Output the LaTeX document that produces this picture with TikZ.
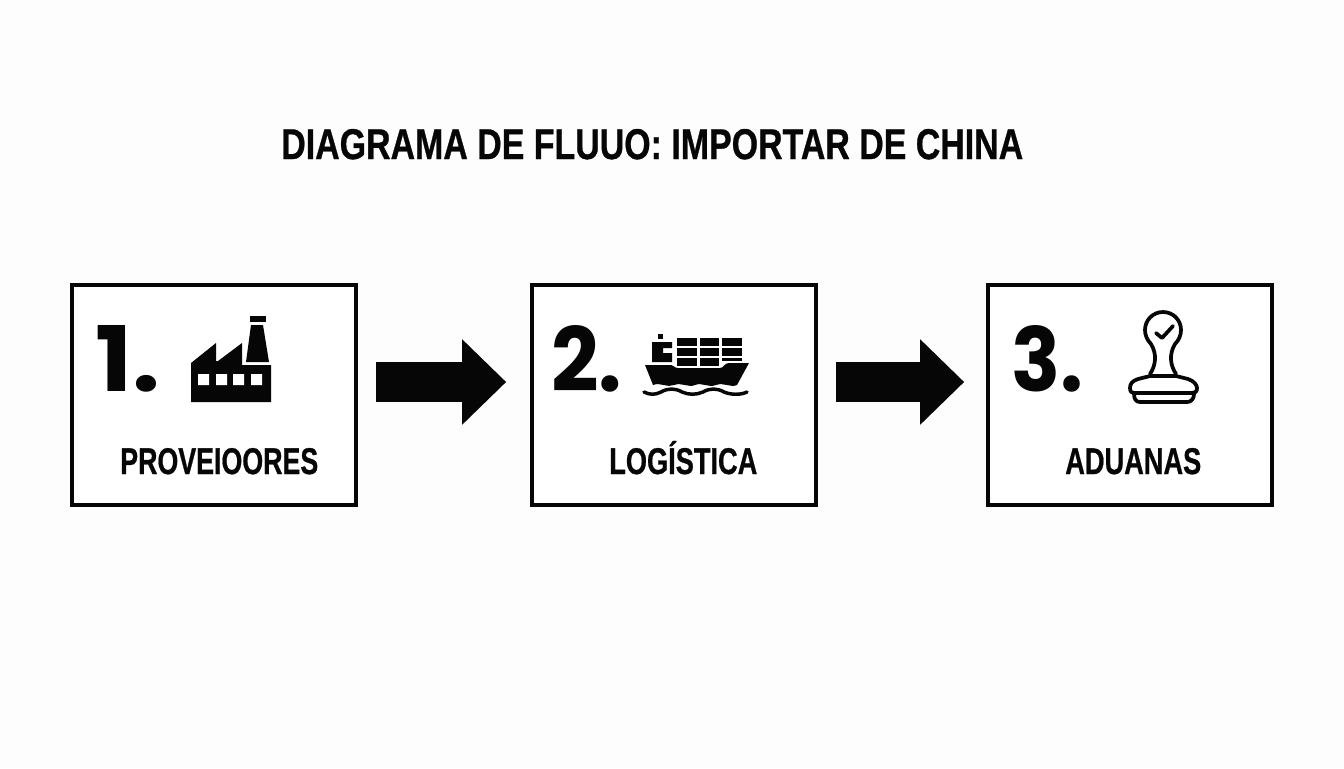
\documentclass[tikz,border=0pt]{standalone}
\usepackage{fontspec}
\usepackage{graphicx}
\setmainfont[BoldFeatures={FakeBold=0.8}]{Liberation Sans}
\newfontfamily\numfont{Poppins}
\usetikzlibrary{arrows.meta}
\definecolor{ink}{HTML}{060606}
\definecolor{paper}{HTML}{FDFDFD}
\newcommand{\fitted}[3]{\resizebox{\the\dimexpr #1pt*3/4\relax}{\the\dimexpr #2pt*3/4\relax}{\bfseries #3}}
\tikzset{
  x=0.75pt,y=-0.75pt,
  stepbox/.style={draw=ink,line width=2.7pt,fill=white,minimum width=213pt,minimum height=165pt,inner sep=0pt},
  lbl/.style={anchor=base west,inner sep=0pt,text=ink},
  flow/.style={draw=ink,line width=29.5pt,-{Triangle[length=33pt 0 0,width=62pt 0 0,fill=ink]}},
  icon/.style={fill=ink,draw=none},
  stroke/.style={draw=ink,line width=2.8pt,line cap=round,line join=round,fill=none}
}
\begin{document}
\begin{tikzpicture}
\path[use as bounding box,fill=paper] (0,0) rectangle (1344,768);
% boxes
\node[stepbox] (a) at (214,395) {};
\node[stepbox] (b) at (674,395) {};
\node[stepbox] (c) at (1130,395) {};
% title and labels
\node[lbl] (title) at (281,159) {\fitted{742}{30}{DIAGRAMA DE FLUUO: IMPORTAR DE CHINA}};
\node[lbl] (l1) at (120,474) {\fitted{198}{26}{PROVEIOORES}};
\node[lbl] (l2) at (609,474) {\fitted{148}{33}{LOGÍSTICA}};
\node[lbl] (l3) at (1065,474) {\fitted{136}{26}{ADUANAS}};
\node[lbl] (n1) at (95,391) {\fitted{65}{66}{\numfont 1.}};
\node[lbl] (n2) at (551,391) {\fitted{71}{66}{\numfont 2.}};
\node[lbl] (n3) at (1011,391) {\fitted{72}{66}{\numfont 3.}};
% connectors
\coordinate (a1) at (a.east |- 0,382);
\coordinate (b1) at (b.west |- 0,382);
\coordinate (b2) at (b.east |- 0,382);
\coordinate (c2) at (c.west |- 0,382);
\draw[flow,shorten <=13.5pt,shorten >=18pt] (a1) -- (b1);
\draw[flow,shorten <=13.5pt,shorten >=16.5pt] (b2) -- (c2);
% factory
\fill[icon] (191,402) -- (191,363) -- (216,343) -- (216,361) -- (218,361) -- (242,343) -- (242,365) -- (271,365) -- (271,402) -- cycle;
\fill[white] (198,374) rectangle (209,385) (216,374) rectangle (227,385) (233,374) rectangle (244,385) (251,374) rectangle (262,385);
\fill[icon] (250,316) rectangle (266,322);
\fill[icon] (251,325) -- (263,325) -- (269,362) -- (246,362) -- cycle;
% ship
\fill[icon] (658,334) rectangle (663,339);
\fill[icon] (652,342) -- (672,342) -- (672,348) -- (663,348) -- (663,353) -- (672,353) -- (672,362) -- (652,362) -- cycle;
\foreach \xa/\xb in {677/697,700/719,722/742}{
  \fill[icon] (\xa,338) rectangle (\xb,346);
  \fill[icon] (\xa,348) rectangle (\xb,356);
}
\fill[icon] (677,358) rectangle (697,366);
\fill[icon] (700,358) rectangle (719,366);
\fill[icon] (722,358) rectangle (742,361);
\fill[icon] (645,365) -- (671,365) .. controls (674,365) and (674,368) .. (678,368) -- (720,368) .. controls (724,368) and (724,363) .. (729,363) -- (749,363) -- (737,385) .. controls (730,388) and (724,382) .. (716,385) .. controls (708,388) and (702,382) .. (695,385) .. controls (688,388) and (682,382) .. (674,385) .. controls (668,388) and (660,382) .. (653,385) -- cycle;
\draw[ink,line width=2.6pt,line cap=round] (644,392) .. controls (650,395) and (655,395) .. (661,392) .. controls (668,388) and (675,388) .. (682,392) .. controls (689,395) and (696,395) .. (703,392) .. controls (710,388) and (717,388) .. (724,392) .. controls (731,395) and (741,395) .. (747,392);
% stamp
\draw[stroke] (1156,333) -- (1162,338) -- (1173,326);
\draw[stroke] (1150,374) .. controls (1156,365) and (1157,354) .. (1151,344) .. controls (1147,340) and (1145,335) .. (1145,330) .. controls (1145,320) and (1153,312) .. (1163,312) .. controls (1173,312) and (1181,320) .. (1181,330) .. controls (1181,335) and (1179,340) .. (1175,344) .. controls (1169,354) and (1170,365) .. (1176,374);
\draw[stroke] (1150,376) -- (1138,379) .. controls (1132,381) and (1130,384) .. (1130,388) .. controls (1130,392) and (1132,393) .. (1134,393) -- (1192,393) .. controls (1195,393) and (1197,392) .. (1197,388) .. controls (1197,385) and (1194,381) .. (1188,379) -- (1176,376) -- cycle;
\draw[stroke] (1134,394) .. controls (1134,399) and (1136,402) .. (1140,402) -- (1187,402) .. controls (1191,402) and (1194,399) .. (1194,394);
\end{tikzpicture}
\end{document}
